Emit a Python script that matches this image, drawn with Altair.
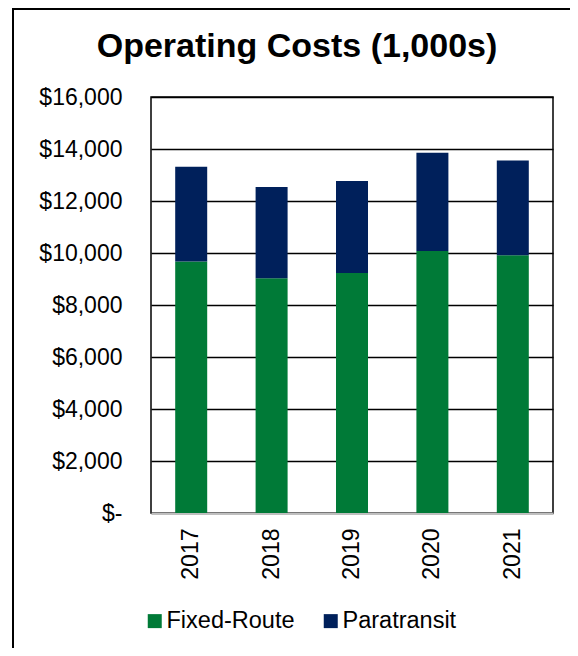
import altair as alt
import pandas as pd

years = ["2017", "2018", "2019", "2020", "2021"]
fixed_route = [9670, 9030, 9230, 10080, 9910]
paratransit = [3650, 3510, 3540, 3780, 3650]
series = ["Fixed-Route", "Paratransit"]
colors = ["#007A37", "#00205B"]
y_ticks = [0, 2000, 4000, 6000, 8000, 10000, 12000, 14000, 16000]
title_text = "Operating Costs (1,000s)"

rows = []
for i, y in enumerate(years):
    rows.append({"year": y, "series": series[0], "value": fixed_route[i], "ord": 0})
    rows.append({"year": y, "series": series[1], "value": paratransit[i], "ord": 1})
df = pd.DataFrame(rows)

FONT = "Liberation Sans, Arial"

bars = alt.Chart(df).mark_bar(size=32).encode(
    x=alt.X("year:N", sort=years, title=None,
            scale=alt.Scale(paddingInner=0, paddingOuter=0),
            axis=alt.Axis(labelAngle=270, labelAlign="right", labelBaseline="middle",
                          labelFontSize=23, labelFont=FONT, labelColor="black",
                          labelPadding=15, ticks=False, domainColor="#BFBFBF",
                          domainWidth=2)),
    y=alt.Y("value:Q", stack="zero", title=None,
            scale=alt.Scale(domain=[0, 16000], nice=False),
            axis=alt.Axis(values=y_ticks, labelFontSize=23, labelFont=FONT,
                          labelColor="black", labelPadding=29, ticks=False,
                          domain=False, gridColor="black", gridWidth=1.5,
                          labelExpr="datum.value == 0 ? '$-\u00a0\u00a0' : format(datum.value, '$,')")),
    color=alt.Color("series:N", title=None,
                    scale=alt.Scale(domain=series, range=colors),
                    legend=alt.Legend(orient="none", legendX=-8, legendY=512,
                                      direction="horizontal", symbolType="square",
                                      symbolSize=196, symbolStrokeWidth=0,
                                      labelFontSize=23.5, labelFont=FONT,
                                      labelColor="black", labelOffset=0,
                                      columnPadding=24, padding=0)),
    order=alt.Order("ord:Q", sort="ascending"),
)

frame = alt.Chart(pd.DataFrame({"k": [0]})).mark_rect(
    fillOpacity=0, stroke="black", strokeWidth=2
).encode(
    x=alt.value(-138), x2=alt.value(430), y=alt.value(-88), y2=alt.value(560)
)

title = alt.Chart(pd.DataFrame({"t": [title_text]})).mark_text(
    font=FONT, fontSize=34, fontWeight="bold", color="black",
    align="center", baseline="alphabetic"
).encode(text="t:N", x=alt.value(146), y=alt.value(-40))

chart = alt.layer(frame, bars, title).properties(
    width=402, height=416,
    autosize=alt.AutoSizeParams(type="none"),
    padding={"left": 143, "top": 89, "right": 17, "bottom": 135},
    background="white",
).configure_view(stroke="black", strokeWidth=1.5)

chart.save("out.html", embed_options={"renderer": "svg", "actions": False})
